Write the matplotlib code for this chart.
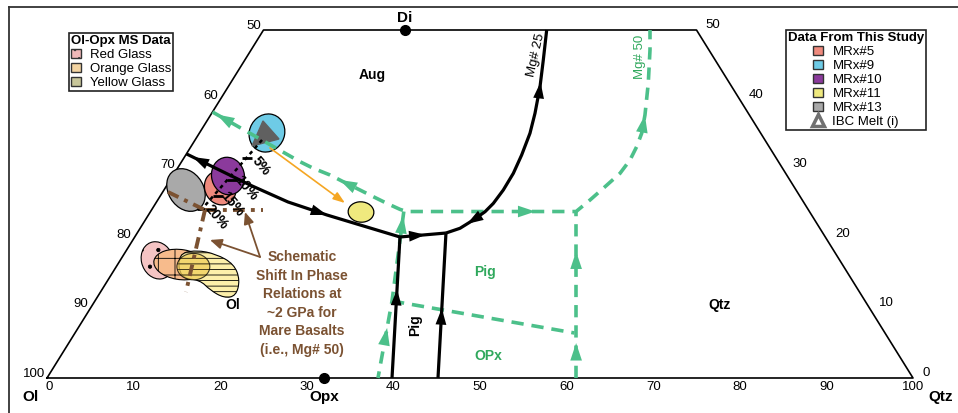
import numpy as np
import matplotlib.pyplot as plt
from matplotlib.patches import Ellipse, Polygon, Patch, PathPatch
from matplotlib.path import Path
from matplotlib.lines import Line2D

plt.rcParams['font.family'] = ['Liberation Sans', 'DejaVu Sans']
plt.rcParams['hatch.linewidth'] = 0.6

# ternary coordinates: x = position along Ol-Qtz base (0-100), y = Di (0-50)
left_ticks = [100, 90, 80, 70, 60, 50]
right_ticks = [0, 10, 20, 30, 40, 50]
base_ticks = [0, 10, 20, 30, 40, 50, 60, 70, 80, 90, 100]

di_point = (41.34, 50.0)
opx_point = (31.99, 0.0)

# black boundaries (Mg# 25)
ol_aug = [(16.1, 32.2), (23.44, 27.73), (27.83, 25.29), (32.33, 23.42), (40.76, 20.26)]
pig_aug = [(40.76, 20.26), (46.07, 20.83)]
qtz_aug = [(46.07, 20.83), (47.69, 21.51), (49.23, 22.70), (50.58, 23.89), (51.54, 25.09),
           (52.69, 27.01), (53.85, 29.41), (54.81, 32.04), (55.77, 35.16), (56.35, 38.03),
           (56.93, 41.85), (57.31, 45.69), (57.70, 50.0)]
ol_pig = [(39.84, 0.0), (40.76, 20.26)]
opx_pig = [(45.15, 0.0), (46.07, 20.83)]

# green boundaries (Mg# 50)
g_main = [(19.11, 38.22), (29.21, 31.08), (30.75, 30.13), (32.68, 29.17), (34.21, 28.20),
          (36.14, 27.01), (37.68, 26.05), (39.23, 25.10), (40.76, 24.23), (41.53, 23.92),
          (61.1, 23.92), (62.70, 25.57), (64.24, 27.26), (66.17, 29.41), (67.32, 31.32),
          (68.09, 33.23), (68.67, 35.16), (69.05, 37.79), (69.43, 42.34), (69.63, 47.13),
          (69.63, 50.0)]
g_left = [(41.2, 23.92), (39.84, 11.06), (38.22, 0.0)]
g_diag = [(39.84, 11.06), (60.9, 6.47)]
g_right = [(61.1, 0.0), (61.1, 23.92)]

# schematic 2 GPa shift (brown)
b_left = [(13.97, 26.72), (18.24, 24.14)]
b_right = [(18.24, 24.14), (24.94, 24.14)]
b_down = [(18.24, 24.14), (16.05, 12.36)]
b_arrow_tail = (24.60, 17.39)
b_arrow_heads = [(18.82, 19.83), (22.86, 23.85)]

# olivine addition line from IBC melt
ol_add = [(24.83, 34.20), (17.90, 24.28)]
pct_points = [(23.06, 31.61), (21.33, 28.45), (19.72, 26.15), (17.90, 24.28)]
pct_labels = ['5%', '10%', '15%', '20%']

# experiment fields
mrx5 = (20.0, 27.3)
mrx9 = (25.40, 35.20)
mrx10 = (20.90, 29.02)
mrx11 = (36.26, 23.85)
mrx13 = (16.05, 27.01)
ibc_melt = [(23.67, 33.33), (24.94, 36.93), (26.79, 34.34)]
ibc_to_mrx11 = [(25.75, 33.05), (34.41, 25.14)]

red_glass = (12.75, 16.9)
orange_glass = (15.4, 16.3)
yellow_core = (16.9, 16.0)
yellow_glass = [(15.13, 17.82), (17.21, 18.39), (19.52, 17.82), (21.59, 16.38), (22.29, 14.08),
                (21.82, 11.78), (20.44, 11.49), (18.82, 12.64), (17.67, 14.08), (15.36, 14.37)]

GREEN = '#4cc08a'
GREEN_TXT = '#2fa85c'
BROWN = '#7b5232'

fig = plt.figure(figsize=(9.58, 4.13), dpi=100)
ax = fig.add_axes([0, 0, 1, 1])
ax.set_xlim(-5.427, 105.196)
ax.set_ylim(-5.029, 54.31)
ax.axis('off')

# outer frame
fig.add_artist(Line2D([9 / 958, 9 / 958], [0, 1 - 7 / 413], transform=fig.transFigure,
                      color='#333333', lw=1.3))
fig.add_artist(Line2D([9 / 958, 1], [1 - 7 / 413, 1 - 7 / 413], transform=fig.transFigure,
                      color='#333333', lw=1.3))

# truncated ternary outline
ax.plot([0, 25, 75, 100, 0], [0, 50, 50, 0, 0], color='black', lw=1.2, zorder=2)

for v in left_ticks:
    y = 100 - v
    ax.annotate(str(v), (y / 2, y), xytext=(-2, 4), textcoords='offset pixels',
                ha='right', va='center', fontsize=9.5)
for v in right_ticks:
    ax.annotate(str(v), (100 - v / 2, v), xytext=(9, 5), textcoords='offset pixels',
                ha='left', va='center', fontsize=9.5)
for v in base_ticks:
    ax.annotate(str(v), (v, 0), xytext=(2 if v == 0 else 0, -9), textcoords='offset pixels',
                ha='center', va='center', fontsize=9.5)

ax.text(-1.9, -2.75, 'Ol', ha='center', va='center', fontsize=11, fontweight='bold')
ax.text(103.2, -2.75, 'Qtz', ha='center', va='center', fontsize=11, fontweight='bold')
ax.text(opx_point[0], -2.75, 'Opx', ha='center', va='center', fontsize=11, fontweight='bold')
ax.text(di_point[0], 51.75, 'Di', ha='center', va='center', fontsize=11, fontweight='bold')
ax.plot(*di_point, 'o', color='black', ms=7, zorder=6, clip_on=False)
ax.plot(*opx_point, 'o', color='black', ms=7, zorder=6, clip_on=False)


def draw(path, **kw):
    xs, ys = zip(*path)
    ax.plot(xs, ys, **kw)


def arrow_on(path, i, t, color, reverse=False, scale=13, z=5):
    p0 = np.array(path[i], float)
    p1 = np.array(path[i + 1], float)
    d = p1 - p0
    if reverse:
        d = -d
    tip = p0 + t * (p1 - p0)
    tail = tip - 3.0 * d / np.hypot(*d)
    ax.annotate('', xy=tip, xytext=tail, zorder=z,
                arrowprops=dict(arrowstyle='-|>,head_length=0.9,head_width=0.3',
                                color=color, lw=0, shrinkA=0, shrinkB=0,
                                mutation_scale=scale))


def blob(points, **kw):
    # closed smooth outline using the points as quadratic control points
    pts = np.array(points, float)
    mids = (pts + np.roll(pts, -1, axis=0)) / 2
    verts = [mids[-1]]
    codes = [Path.MOVETO]
    for k in range(len(pts)):
        verts += [pts[k], mids[k]]
        codes += [Path.CURVE3, Path.CURVE3]
    return PathPatch(Path(verts, codes), **kw)


# glass fields (Ol-Opx MS data)
ax.add_patch(Ellipse(red_glass, 3.7, 5.4, angle=10, fc='#f5c4c4', ec='black', lw=0.8,
                     hatch='.', zorder=3))
ax.add_patch(Ellipse(orange_glass, 6.2, 4.3, angle=-12, fc='#f7bb8c', ec='black', lw=0.8,
                     hatch='+', zorder=3))
ax.add_patch(blob(yellow_glass, fc='#fcefaa', ec='black', lw=0.8, hatch='---', zorder=3))
ax.add_patch(Ellipse(yellow_core, 3.8, 3.8, fc='#f1cf5c', ec='black', lw=0.8, alpha=0.75,
                     hatch='---', zorder=3))

# experiment fields (this study)
ax.add_patch(Ellipse(mrx13, 4.2, 6.3, angle=18, fc='#a9a9a9', ec='black', lw=0.9, zorder=3))
ax.add_patch(Ellipse(mrx5, 3.6, 4.9, angle=10, fc='#ef8a7d', ec='black', lw=0.9, zorder=3))
ax.add_patch(Ellipse(mrx10, 3.8, 5.4, angle=5, fc='#8b3a9c', ec='black', lw=0.9, zorder=3))
ax.add_patch(Ellipse(mrx9, 4.1, 5.5, angle=-8, fc='#6ecbe6', ec='black', lw=0.9, zorder=3))
ax.add_patch(Polygon(ibc_melt, closed=True, fc='#606060', ec='#606060', lw=1, zorder=3.5))
ax.add_patch(Ellipse(mrx11, 3.0, 2.9, angle=-35, fc='#efe97e', ec='black', lw=0.9, zorder=3))

# olivine addition line with percentage ticks
draw(ol_add, color='black', lw=1.8, ls=(0, (1.5, 1.5)), zorder=4)
px, py = zip(*pct_points)
ax.plot(px, py, ls='none', marker='_', ms=7, mew=2, color='black', zorder=4)
for (x, y), lab in zip(pct_points, pct_labels):
    ax.annotate(lab, (x, y), xytext=(14, -8), textcoords='offset pixels', rotation=-50,
                ha='center', va='center', fontsize=10, fontweight='bold', zorder=6)

# IBC melt -> MRx#11
ax.annotate('', xy=ibc_to_mrx11[1], xytext=ibc_to_mrx11[0], zorder=4,
            arrowprops=dict(arrowstyle='-|>,head_length=0.7,head_width=0.25',
                            color='#f5a623', lw=1.2, shrinkA=0, shrinkB=0, mutation_scale=10))

# brown schematic shift
bstyle = dict(color=BROWN, lw=2.8, ls=(0, (3, 1.6, 1, 1.6)), zorder=4)
for p in (b_left, b_right, b_down):
    draw(p, **bstyle)
for h in b_arrow_heads:
    ax.annotate('', xy=h, xytext=b_arrow_tail, zorder=4,
                arrowprops=dict(arrowstyle='-|>,head_length=0.7,head_width=0.3',
                                color=BROWN, lw=1.3, shrinkA=0, shrinkB=0, mutation_scale=10))
ax.text(29.45, 10.7, 'Schematic\nShift In Phase\nRelations at\n~2 GPa for\nMare Basalts\n(i.e., Mg# 50)',
        ha='center', va='center', fontsize=10, fontweight='bold', color=BROWN, linespacing=1.42)

# green Mg# 50 boundaries
gstyle = dict(color=GREEN, lw=2.6, ls=(0, (3.4, 2.2)), zorder=4.5)
for p in (g_main, g_left, g_diag, g_right):
    draw(p, **gstyle)
arrow_on(g_main, 0, 0.05, GREEN, reverse=True, scale=14)
arrow_on(g_main, 3, 0.73, GREEN, reverse=True, scale=14)
arrow_on(g_main, 9, 0.76, GREEN, scale=14)
arrow_on(g_main, 16, 0.99, GREEN, scale=14)
arrow_on(g_left, 0, 0.05, GREEN, reverse=True, scale=14)
arrow_on(g_left, 1, 0.35, GREEN, reverse=True, scale=14)
arrow_on(g_right, 0, 0.76, GREEN, scale=14)
arrow_on(g_right, 0, 0.21, GREEN, scale=14)

# black Mg# 25 boundaries
kstyle = dict(color='black', lw=2.3, zorder=5, solid_capstyle='butt', solid_joinstyle='round')
for p in (ol_aug, pig_aug, qtz_aug, ol_pig, opx_pig):
    draw(p, **kstyle)
arrow_on(ol_aug, 0, 0.1, 'black', reverse=True)
arrow_on(ol_aug, 2, 1.0, 'black')
arrow_on(pig_aug, 0, 0.55, 'black')
arrow_on(qtz_aug, 1, 0.53, 'black', reverse=True)
arrow_on(qtz_aug, 10, 0.17, 'black')
arrow_on(ol_pig, 0, 0.63, 'black')
arrow_on(opx_pig, 0, 0.48, 'black')

# field labels
ax.text(37.53, 43.53, 'Aug', ha='center', va='center', fontsize=10, fontweight='bold')
ax.text(21.48, 10.49, 'Ol', ha='center', va='center', fontsize=10, fontweight='bold')
ax.text(77.71, 10.49, 'Qtz', ha='center', va='center', fontsize=10, fontweight='bold')
ax.text(42.49, 7.61, 'Pig', ha='center', va='center', fontsize=10, fontweight='bold', rotation=90)
ax.text(50.58, 15.23, 'Pig', ha='center', va='center', fontsize=10, fontweight='bold',
        color=GREEN_TXT)
ax.text(50.92, 3.16, 'OPx', ha='center', va='center', fontsize=10, fontweight='bold',
        color=GREEN_TXT)
ax.text(56.47, 46.41, 'Mg# 25', ha='center', va='center', fontsize=9.5, rotation=77)
ax.text(68.48, 46.12, 'Mg# 50', ha='center', va='center', fontsize=9.5, rotation=90,
        color=GREEN_TXT)

# legends
leg_kw = dict(loc='upper left', fontsize=9.5, title_fontproperties={'weight': 'bold', 'size': 9.5},
              frameon=True, fancybox=False, edgecolor='#222222', framealpha=1,
              borderpad=0.15, labelspacing=0.12, handlelength=0.75, handleheight=0.75,
              handletextpad=0.7, borderaxespad=0)
glass_handles = [
    Patch(fc='#f0b8b8', ec='#333333', hatch='..', label='Red Glass'),
    Patch(fc='#f3d4a2', ec='#333333', label='Orange Glass'),
    Patch(fc='#c8c69a', ec='#333333', label='Yellow Glass'),
]
leg1 = ax.legend(handles=glass_handles, title='Ol-Opx MS Data',
                 bbox_to_anchor=(69 / 958, 1 - 33 / 413), **leg_kw)
leg1.get_frame().set_linewidth(1.2)
ax.add_artist(leg1)

study_handles = [
    Patch(fc='#ef8a7d', ec='#333333', label='MRx#5'),
    Patch(fc='#6ecbe6', ec='#333333', label='MRx#9'),
    Patch(fc='#8b3a9c', ec='#333333', label='MRx#10'),
    Patch(fc='#efe97e', ec='#333333', label='MRx#11'),
    Patch(fc='#a9a9a9', ec='#333333', label='MRx#13'),
    Line2D([], [], ls='none', marker='^', ms=9, mfc='none', mec='#707070', mew=2.5,
           label='IBC Melt (i)'),
]
leg2 = ax.legend(handles=study_handles, title='Data From This Study',
                 bbox_to_anchor=(786 / 958, 1 - 30 / 413), **leg_kw)
leg2.get_frame().set_linewidth(1.2)

fig.savefig('out.png', dpi=100)
